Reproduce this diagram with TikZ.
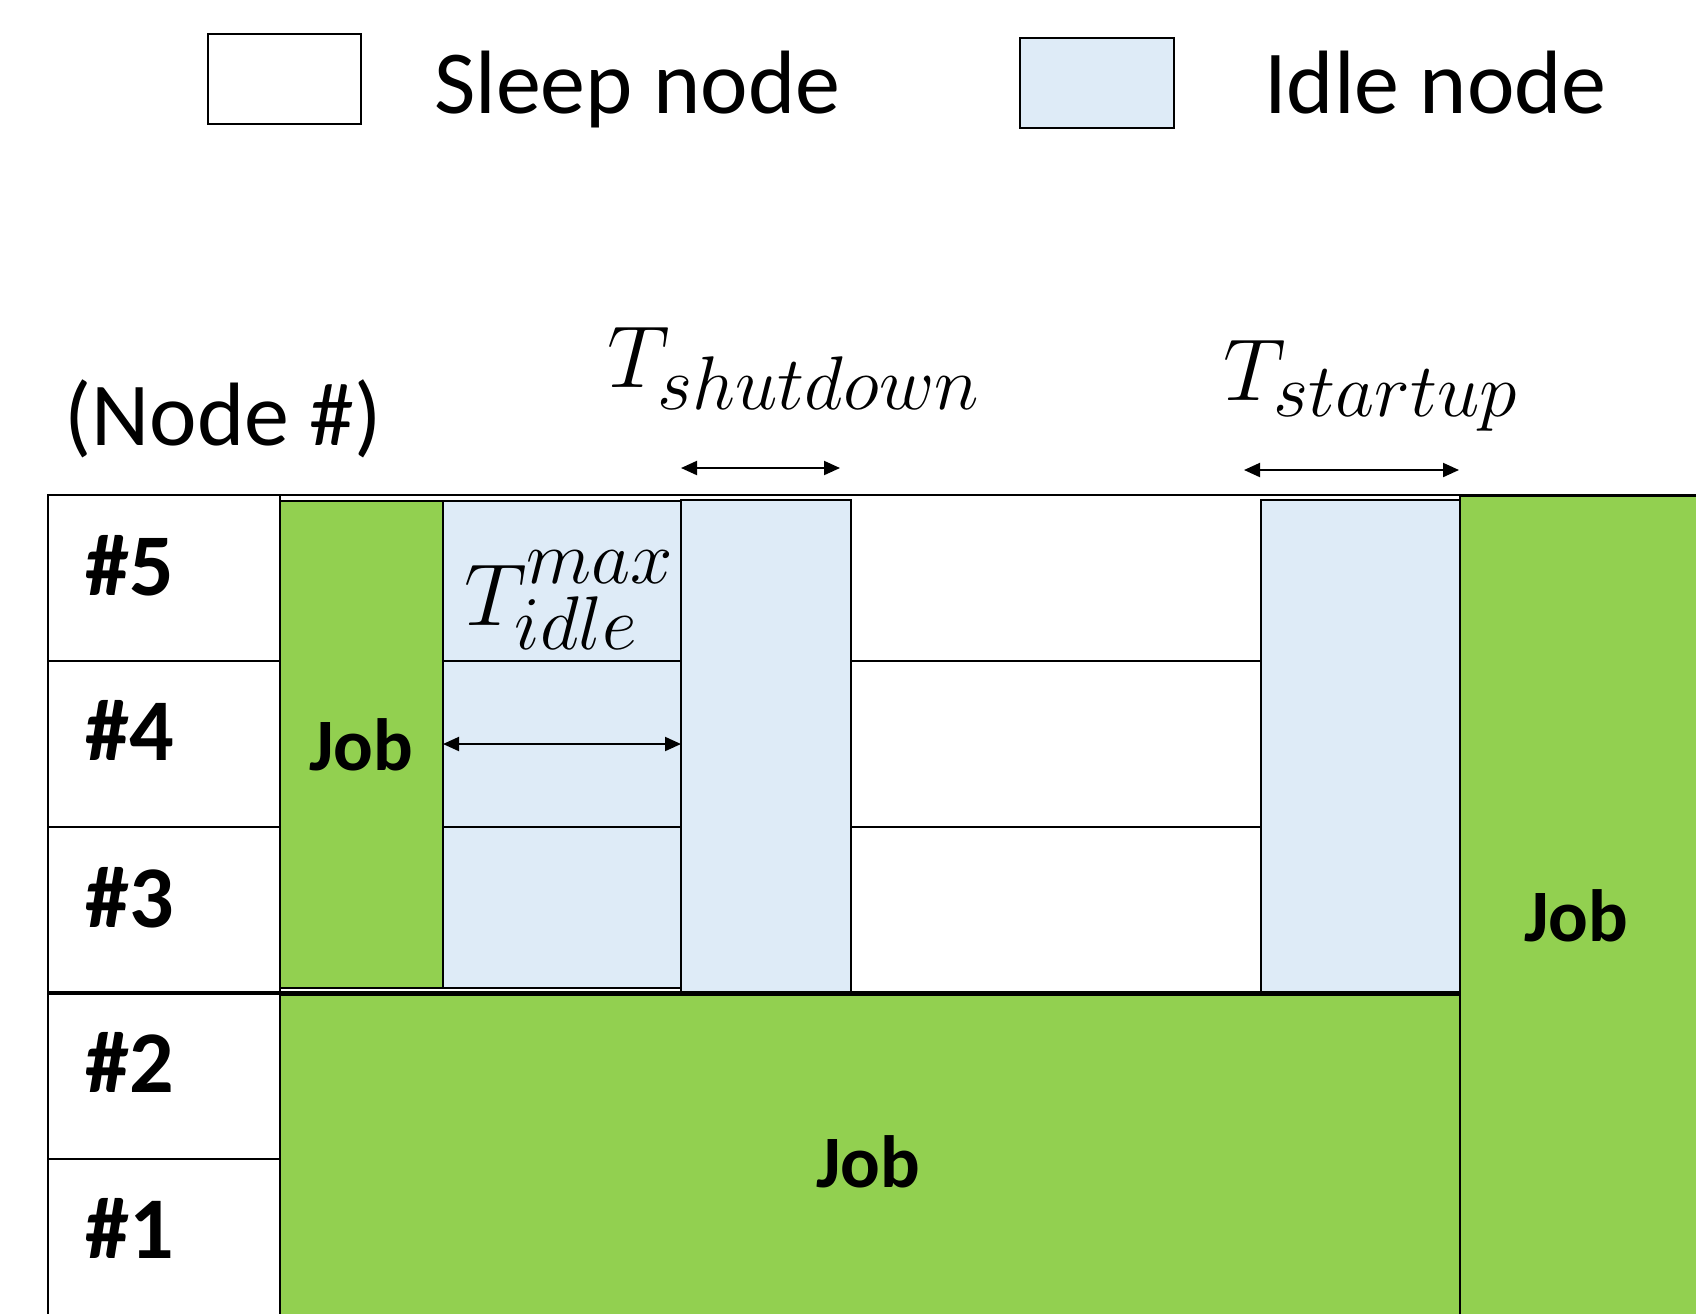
\documentclass[tikz,border=0pt]{standalone}
\usepackage{fix-cm}
\usepackage{fontspec}
\setmainfont{Carlito}
\usetikzlibrary{arrows.meta}
\definecolor{jobgreen}{HTML}{92D050}
\definecolor{idleblue}{HTML}{DEEBF7}
\DeclareMathSizes{44}{44}{38}{30}
% rectangle node from its top-left to its bottom-right corner (pixel grid)
\newcommand\cellbox[6]{%
  \node[#6, anchor=north west, minimum width={(#4-#2)*0.5pt},
        minimum height={(#5-#3)*0.5pt}] (#1) at (#2,#3) {};}
\begin{document}
\begin{tikzpicture}[x=0.5pt,y=-0.5pt,
  line width=1.2pt,
  sleep/.style={draw, fill=white, inner sep=0pt, outer sep=0pt},
  idle/.style={draw, fill=idleblue, inner sep=0pt, outer sep=0pt},
  job/.style={draw, fill=jobgreen, inner sep=0pt, outer sep=0pt},
  span/.style={{Triangle[length=8pt,width=7pt]}-{Triangle[length=8pt,width=7pt]}, line width=1pt},
  rowlbl/.style={anchor=base west, inner sep=0pt, font=\fontsize{44}{52}\selectfont\bfseries},
  joblbl/.style={anchor=base, inner sep=0pt, font=\fontsize{37}{44}\selectfont\bfseries},
  plain/.style={anchor=base west, inner sep=0pt, font=\fontsize{45}{54}\selectfont},
  mathlbl/.style={anchor=base west, inner sep=0pt, font=\fontsize{44}{52}\selectfont}]
\path[use as bounding box, clip] (0,0) rectangle (1696,1313);

% legend
\cellbox{legsleep}{208}{34}{361}{124}{sleep}
\node[plain] (legsleeptxt) at (433,113) {Sleep node};
\cellbox{legidle}{1020}{38}{1174}{128}{idle}
\node[plain] (legidletxt) at (1263,113) {Idle node};

% axis caption
\node[plain] (axis) at (63,445) {(Node \#)};

% node rows: label column and timeline cells
\cellbox{n5}{48}{495}{280}{661}{sleep}
\cellbox{n4}{48}{661}{280}{827}{sleep}
\cellbox{n3}{48}{827}{280}{993}{sleep}
\cellbox{n2}{48}{993}{280}{1159}{sleep}
\cellbox{n1}{48}{1159}{280}{1340}{sleep}
\cellbox{s5}{280}{495}{1700}{661}{sleep}
\cellbox{s4}{280}{661}{1460}{827}{sleep}
\cellbox{s3}{280}{827}{1460}{993}{sleep}

\node[rowlbl] (l5) at (84,595) {\#5};
\node[rowlbl] (l4) at (84,760) {\#4};
\node[rowlbl] (l3) at (84,927) {\#3};
\node[rowlbl] (l2) at (84,1092) {\#2};
\node[rowlbl] (l1) at (84,1258) {\#1};

% first job on nodes 3-5, followed by idle time
\cellbox{job1}{280}{501}{443}{988}{job}
\cellbox{i5}{443}{501}{681}{661}{idle}
\cellbox{i4}{443}{661}{681}{827}{idle}
\cellbox{i3}{443}{827}{681}{988}{idle}
% shutdown and startup phases
\cellbox{sd}{681}{500}{851}{993}{idle}
\cellbox{su}{1261}{500}{1460}{992}{idle}

% long job on nodes 1-2 and final job on all nodes
\draw[line width=2pt] (n3.south west) -- (n3.south west -| su.east);
\cellbox{job2}{280}{995}{1460}{1340}{job}
\cellbox{job3}{1460}{496}{1710}{1340}{job}

\node[joblbl] (job1txt) at (361,770) {Job};
\node[joblbl] (job2txt) at (868,1187) {Job};
\node[joblbl] (job3txt) at (1576,941) {Job};

% durations
\coordinate (sdl) at (681,468);
\coordinate (sdr) at (840,468);
\draw[span] (sdl) -- (sdr);
\coordinate (sul) at (1244,470);
\coordinate (sur) at (1459,470);
\draw[span] (sul) -- (sur);
\draw[span] (job1.east |- i4.center) -- (sd.west |- i4.center);

\node[mathlbl] (tsd) at (606,387) {$T_{shutdown}$};
\node[mathlbl] (tsu) at (1222,400) {$T_{startup}$};
\node[mathlbl] (tidle) at (463,625)
  {$T^{\raisebox{5pt}{$\scriptstyle max$}}_{\raisebox{-1pt}{$\scriptstyle idle$}}$};
\end{tikzpicture}
\end{document}
